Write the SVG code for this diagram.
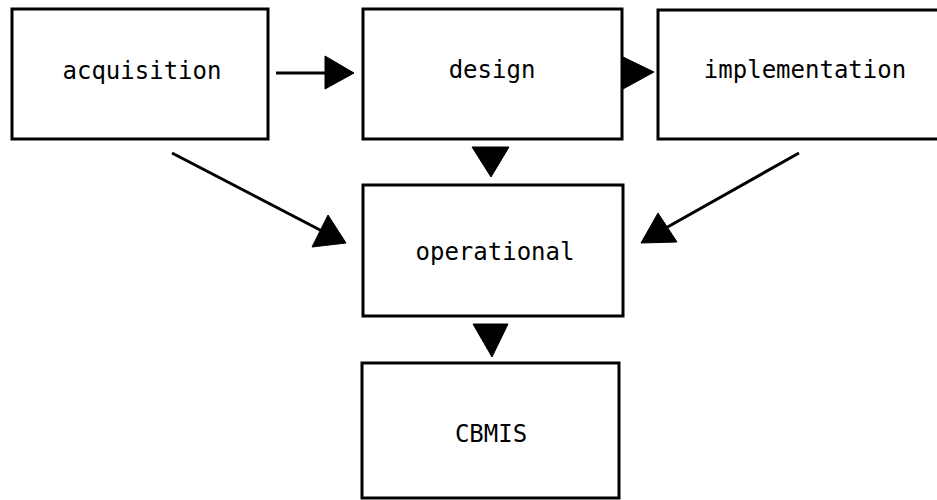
<svg xmlns="http://www.w3.org/2000/svg" width="937" height="500" viewBox="0 0 937 500">
<style>
.box{fill:#fff;stroke:#000;stroke-width:3}
.lbl{font-family:"DejaVu Sans Mono","Liberation Mono",monospace;font-size:24px;fill:#000;text-anchor:middle}
.ln{stroke:#000;stroke-width:3;fill:none}
.hd{fill:#000;stroke:#000;stroke-width:1;stroke-linejoin:round}
</style>
<rect width="937" height="500" fill="#fff"/>
<g id="acquisition"><rect class="box" x="12" y="9" width="256" height="130"/><text class="lbl" x="142" y="79">acquisition</text></g>
<g id="design"><rect class="box" x="363" y="9" width="259" height="130"/><text class="lbl" x="492" y="78">design</text></g>
<g id="implementation"><rect class="box" x="658" y="10" width="290" height="129"/><text class="lbl" x="805" y="78">implementation</text></g>
<g id="operational"><rect class="box" x="363" y="185" width="260" height="131"/><text class="lbl" x="495" y="260">operational</text></g>
<g id="CBMIS"><rect class="box" x="362" y="363" width="257" height="135"/><text class="lbl" x="491" y="442">CBMIS</text></g>
<g id="connectors">
<line class="ln" x1="276" y1="73" x2="326" y2="73"/>
<polygon class="hd" points="325,56 354,73 325,89"/>
<polygon class="hd" points="623,57 654,72 623,89"/>
<polygon class="hd" points="472,147 509,147 491,177"/>
<polygon class="hd" points="473,324 508,324 492,357"/>
<line class="ln" x1="172" y1="153" x2="322" y2="231"/>
<polygon class="hd" points="328,215 346,243 312,247"/>
<line class="ln" x1="799" y1="153" x2="664" y2="229"/>
<polygon class="hd" points="658,213 677,242 641,243"/>
</g>
</svg>
